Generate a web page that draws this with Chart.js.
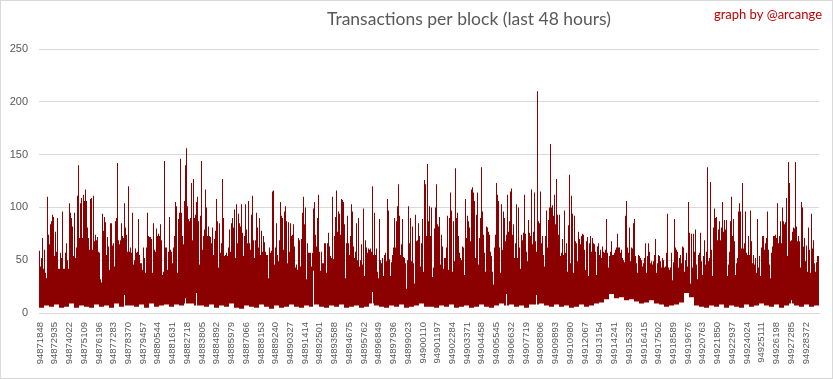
<!DOCTYPE html>
<html>
<head>
<meta charset="utf-8">
<script src="https://cdn.jsdelivr.net/npm/chart.js@4/dist/chart.umd.min.js"></script>
<style>
  html, body { margin: 0; padding: 0; background: #fff; }
  canvas { display: block; }
</style>
</head>
<body>
<canvas id="chart" width="833" height="379"></canvas>
<script>
const TITLE = 'Transactions per block (last 48 hours)';
const CREDIT = 'graph by @arcange';

// each value below covers ~74 consecutive blocks (one pixel column of the original)
const FIRST_BLOCK = 94871774;
const BLOCKS_PER_POINT = 73.8;

// tick labels on the x axis (block numbers)
const tickBlocks = [
  94871848, 94872935, 94874022, 94875109, 94876196, 94877283, 94878370, 94879457, 94880544,
  94881631, 94882718, 94883805, 94884892, 94885979, 94887066, 94888153, 94889240, 94890327,
  94891414, 94892501, 94893588, 94894675, 94895762, 94896849, 94897936, 94899023, 94900110,
  94901197, 94902284, 94903371, 94904458, 94905545, 94906632, 94907719, 94908806, 94909893,
  94910980, 94912067, 94913154, 94914241, 94915328, 94916415, 94917502, 94918589, 94919676,
  94920763, 94921850, 94922937, 94924024, 94925111, 94926198, 94927285, 94928372
];

// highest transaction count in each group of blocks
const txMax = [
  59,44,52,71,42,60,38,33,110,74, 65,84,87,93,91,54,77,58,90,42,
  42,57,52,96,42,42,57,66,50,42, 104,95,90,82,54,95,52,62,111,140,
  71,104,109,71,112,106,117,106,81,71, 60,108,109,60,111,68,74,69,72,58,
  57,32,29,94,78,91,86,55,72,63, 41,85,85,64,66,44,87,90,142,69,
  65,69,85,73,71,104,81,74,58,120, 58,62,57,95,46,50,61,57,58,89,
  55,47,47,41,62,52,38,62,95,73, 72,72,70,38,85,60,58,80,73,75,
  73,84,69,36,39,144,62,62,41,58, 91,60,
  58,47,62,73,105,101,38,89,95,146, 95,73,65,106,140,156,101,89,87,90,
  123,69,127,90,93,105,110,87,46,92, 144,60,73,79,117,100,73,82,73,72,
  66,81,55,70,78,108,87,43,85,57, 66,127,90,54,55,57,54,62,79,58,
  85,90,81,98,52,103,66,94,85,82, 103,76,54,73,103,79,66,106,66,60,
  93,111,69,52,69,95,81,62,90,55, 78,58,73,67,58,55,55,33,62,57,
  59,115,116,46,62,85,55,49,69,105, 92,90,60,96,101,87,47,86,58,85,
  73,74,84,63,43,46,41,71,69,44,
  70,95,110,84,100,32,66,57,57,57, 44,57,99,105,74,63,90,112,58,40,
  58,47,47,66,66,38,66,76,63,54, 52,110,51,73,91,116,77,96,94,74,
  108,107,105,84,33,66,92,66,55,73, 103,96,63,52,58,85,50,90,44,50,
  65,46,99,35,69,62,57,61,60,61, 58,120,55,95,55,61,39,33,89,50,
  47,52,35,55,57,49,108,97,51,35, 48,55,62,90,62,87,101,122,92,55,
  65,89,53,52,47,23,50,101,66,90, 49,82,47,28,93,68,69,85,73,44,
  66,89,39,126,122,73,141,87,101,73,
  100,34,43,80,100,122,84,82,91,46, 74,63,42,52,52,62,92,41,90,114,
  97,39,87,49,137,90,95,73,57,52, 50,63,62,36,108,71,92,87,81,68,
  117,119,114,106,52,93,114,46,71,90, 138,96,74,57,39,82,81,77,74,58,
  54,39,27,62,74,123,112,106,62,38, 103,60,96,90,68,74,112,77,87,115,
  118,74,84,52,66,103,52,100,62,42, 74,69,76,112,75,58,49,88,76,73,
  117,65,77,114,68,58,210,87,85,115, 66,73,55,44,73,97,62,88,100,160,
  100,102,92,112,84,127,93,74,93,54,
  57,70,55,97,57,66,39,83,131,47, 111,94,38,92,68,66,49,77,70,65,
  73,75,74,60,41,68,72,35,66,73, 58,71,66,65,58,36,63,66,55,60,
  52,63,58,57,60,89,57,43,54,58, 68,55,55,57,60,62,75,62,62,57,
  60,52,50,48,92,106,62,57,81,49, 62,61,85,89,54,47,38,55,54,52,
  50,44,47,52,66,38,54,66,58,47, 49,46,49,55,70,38,47,55,54,49,
  43,52,50,43,44,57,94,43,41,43, 57,31,48,89,62,60,58,43,52,55,
  47,63,62,39,50,57,44,105,76,28,
  75,43,75,58,79,46,32,55,57,76, 49,36,54,69,46,58,138,49,52,124,
  60,35,81,99,90,91,69,79,87,69, 81,105,77,88,79,88,35,46,58,87,
  110,73,89,68,36,47,52,96,104,96, 61,123,61,66,96,57,55,73,55,97,
  68,47,55,46,52,38,89,43,54,35, 62,73,73,60,66,71,96,60,46,33,
  57,63,73,73,74,71,104,66,73,87, 66,100,87,84,86,109,54,143,123,68,
  69,77,81,80,143,82,68,73,68,43, 105,100,63,71,49,64,39,81,60,38,
  94,61,69,47,39,48,54,54
];

// lowest transaction count, one value per 5 groups
const txMin = [
  5,7,6,8,5,6,9,5,7,6, 5,8,6,7,5,9,6,7,7,6, 8,5,9,6,7,8,
  6,8,7,9,9,7,7,6,8,5, 7,6,9,5,4,7,6,5,8,6, 4,7,5,6,8,6,
  5,7,6,8,6,5,7,6,8,5, 6,7,5,6,9,7,6,5,7,6, 8,5,6,7,9,6,
  6,5,7,6,8,5,6,7,5,6, 8,6,5,7,9,7,8,6,7,5, 8,8,9,7,6,8,
  6,7,5,6,8,6,7,9,10,13, 18,14,15,12,13,11,9,10,12,9, 8,6,7,8,10,19,
  15,7,6,5,7,6,8,5,7,6, 5,8,6,7,9,7,6,8,5,7, 9,7,6,8,6,7
];
const MIN_GROUP = 5;

// single groups whose lowest value stands out above the rest
const minSpikeIndex = [85, 146, 157, 274, 333, 467, 497, 752];
const minSpikeValue = [17, 14, 19, 40, 20, 18, 17, 12];

function lowAt(i) {
  const k = minSpikeIndex.indexOf(i);
  return k >= 0 ? minSpikeValue[k] : txMin[Math.floor(i / MIN_GROUP)];
}

const points = txMax.map((v, i) => ({
  x: FIRST_BLOCK + (i + 0.5) * BLOCKS_PER_POINT,
  y: [lowAt(i), v]
}));

const TEXT_FONT = 'Lato, "Liberation Sans", sans-serif';
const TICK_FONT = '"Liberation Sans", Arial, sans-serif';
const GREY = '#595959';

const frame = {
  id: 'frame',
  beforeDraw(chart) {
    const c = chart.ctx;
    c.save();
    c.fillStyle = '#fff';
    c.fillRect(0, 0, chart.width, chart.height);
    c.restore();
  },
  afterDraw(chart) {
    const c = chart.ctx;
    c.save();
    c.strokeStyle = '#d9d9d9';
    c.lineWidth = 1;
    c.strokeRect(0.5, 0.5, chart.width - 1, chart.height - 1);
    c.fillStyle = GREY;
    c.font = '17.5px ' + TEXT_FONT;
    c.textAlign = 'center';
    c.textBaseline = 'middle';
    c.fillText(TITLE, 469, 19);
    c.fillStyle = '#c00000';
    c.font = '13px ' + TEXT_FONT;
    c.textAlign = 'right';
    c.fillText(CREDIT, 822, 15);
    c.restore();
  }
};

new Chart(document.getElementById('chart'), {
  type: 'bar',
  data: {
    datasets: [{
      data: points,
      backgroundColor: '#8b0000',
      borderWidth: 0,
      barThickness: 1,
      inflateAmount: 0
    }]
  },
  options: {
    responsive: false,
    animation: false,
    devicePixelRatio: 1,
    layout: { autoPadding: false, padding: { top: 49, right: 14, bottom: 0, left: 0 } },
    plugins: { legend: { display: false }, tooltip: { enabled: false }, title: { display: false } },
    scales: {
      x: {
        type: 'linear',
        offset: false,
        min: FIRST_BLOCK,
        max: FIRST_BLOCK + txMax.length * BLOCKS_PER_POINT,
        afterBuildTicks: s => { s.ticks = tickBlocks.map(v => ({ value: v })); },
        afterFit: s => { s.height = 66; },
        ticks: {
          autoSkip: false,
          minRotation: 90,
          maxRotation: 90,
          padding: 9,
          color: GREY,
          font: { family: TICK_FONT, size: 9.5 },
          callback: v => String(v)
        },
        grid: { display: false, drawTicks: false, offset: false },
        border: { color: '#d9d9d9' }
      },
      y: {
        min: 0,
        max: 250,
        afterFit: s => { s.width = 39; },
        ticks: { stepSize: 50, padding: 11, color: GREY, font: { family: TICK_FONT, size: 11 } },
        grid: { color: '#d9d9d9', drawTicks: false },
        border: { display: false }
      }
    }
  },
  plugins: [frame]
});
</script>
</body>
</html>
